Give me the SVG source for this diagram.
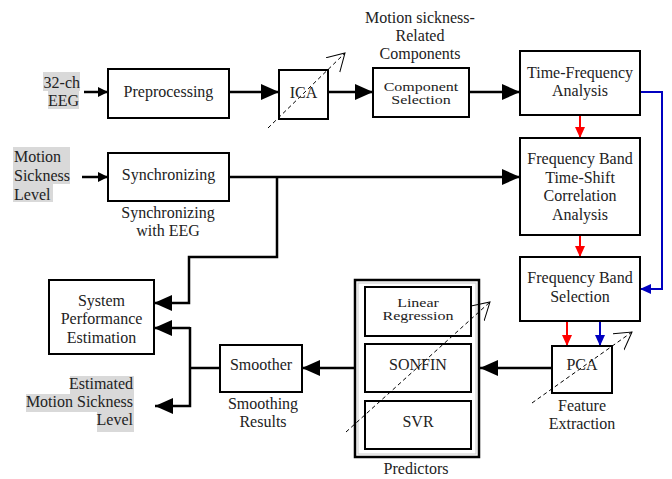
<svg xmlns="http://www.w3.org/2000/svg" width="672" height="479" viewBox="0 0 672 479">
<defs>
<marker id="big" markerUnits="userSpaceOnUse" markerWidth="18" markerHeight="16" refX="18" refY="8" orient="auto"><path d="M0,0 L18,8 L0,16 Z" fill="#000"/></marker>
<marker id="small" markerUnits="userSpaceOnUse" markerWidth="10" markerHeight="10" refX="10" refY="5" orient="auto"><path d="M0,0 L10,5 L0,10 Z" fill="#000"/></marker>
<marker id="red" markerUnits="userSpaceOnUse" markerWidth="11" markerHeight="10" refX="11" refY="5" orient="auto"><path d="M0,0 L11,5 L0,10 Z" fill="#f00"/></marker>
<marker id="blue" markerUnits="userSpaceOnUse" markerWidth="11" markerHeight="10" refX="11" refY="5" orient="auto"><path d="M0,0 L11,5 L0,10 Z" fill="#0000c0"/></marker>
<marker id="open" markerUnits="userSpaceOnUse" markerWidth="20" markerHeight="22" refX="17" refY="10" orient="auto"><path d="M0,0 L17,10 L0,20" fill="none" stroke="#000" stroke-width="1"/></marker>
</defs>
<style>
text{font-family:"Liberation Serif","Times New Roman",serif;font-size:16px;fill:#222;text-anchor:middle}
.box{fill:#fff;stroke:#000;stroke-width:2}
.c{fill:none;stroke:#000;stroke-width:2.5}
.r{fill:none;stroke:#f00;stroke-width:2}
.b{fill:none;stroke:#0000c0;stroke-width:2}
.d{fill:none;stroke:#000;stroke-width:1;stroke-dasharray:4,3}
.hl{fill:#d9d9d9}
.end{text-anchor:end}
.start{text-anchor:start}
</style>

<g id="labels">
<rect class="hl" x="43" y="72" width="37" height="19"/>
<rect class="hl" x="48" y="91" width="31" height="18"/>
<text class="end" x="80" y="88">32-ch</text>
<text class="end" x="79" y="106">EEG</text>
<rect class="hl" x="13" y="147" width="57" height="37"/>
<rect class="hl" x="13" y="184" width="40" height="18"/>
<text class="start" x="14" y="162">Motion</text>
<text class="start" x="14" y="181">Sickness</text>
<text class="start" x="14" y="200">Level</text>
<rect class="hl" x="70" y="376" width="64" height="18"/>
<rect class="hl" x="26" y="394" width="108" height="18"/>
<rect class="hl" x="97" y="412" width="37" height="20"/>
<text class="end" x="133" y="389">Estimated</text>
<text class="end" x="133" y="407">Motion Sickness</text>
<text class="end" x="133" y="425">Level</text>
<text x="420" y="23">Motion sickness-</text>
<text x="420" y="41">Related</text>
<text x="420" y="59">Components</text>
<text x="168" y="218">Synchronizing</text>
<text x="168" y="236">with EEG</text>
<text x="263" y="409">Smoothing</text>
<text x="263" y="427">Results</text>
<text x="582" y="411">Feature</text>
<text x="582" y="429">Extraction</text>
<text x="416" y="474">Predictors</text>
</g>

<g id="connectors">
<line class="c" x1="84" y1="92" x2="108" y2="92" stroke-width="2" marker-end="url(#small)"/>
<line class="c" x1="229" y1="92" x2="279" y2="92" marker-end="url(#big)"/>
<line class="c" x1="328" y1="92" x2="373" y2="92" marker-end="url(#big)"/>
<line class="c" x1="469" y1="92" x2="520" y2="92" marker-end="url(#big)"/>
<line class="c" x1="82" y1="177" x2="108" y2="177" stroke-width="2" marker-end="url(#small)"/>
<line class="c" x1="229" y1="177" x2="520" y2="177" marker-end="url(#big)"/>
<polyline class="c" points="277,177 277,257 189,257 189,303 154,303" marker-end="url(#big)"/>
<line class="r" x1="580" y1="115" x2="580" y2="138" marker-end="url(#red)"/>
<line class="r" x1="580" y1="235" x2="580" y2="257" marker-end="url(#red)"/>
<polyline class="b" points="640,92 662,92 662,289 640,289" marker-end="url(#blue)"/>
<line class="r" x1="567" y1="321" x2="567" y2="346" marker-end="url(#red)"/>
<line class="b" x1="600" y1="321" x2="600" y2="346" marker-end="url(#blue)"/>
<line class="c" x1="552" y1="368" x2="480" y2="368" marker-end="url(#big)"/>
<line class="c" x1="355" y1="368" x2="302" y2="368" marker-end="url(#big)"/>
<line class="c" x1="220" y1="368" x2="190" y2="368"/>
<polyline class="c" points="190,327 190,406 155,406" marker-end="url(#big)"/>
<line class="c" x1="190" y1="328" x2="154" y2="328" marker-end="url(#big)"/>
</g>

<g id="preprocessing"><rect class="box" x="108" y="69" width="121" height="49"/><text x="168.5" y="97">Preprocessing</text></g>
<g id="ica"><rect class="box" x="279" y="70" width="49" height="49"/><text x="303.5" y="98">ICA</text></g>
<g id="component-selection"><rect class="box" x="373" y="68" width="96" height="49"/><text transform="translate(421,90.5) scale(1,0.8)">Component</text><text transform="translate(421,103.5) scale(1,0.8)">Selection</text></g>
<g id="time-frequency"><rect class="box" x="520" y="51" width="120" height="64"/><text x="580" y="78">Time-Frequency</text><text x="580" y="96">Analysis</text></g>
<g id="synchronizing"><rect class="box" x="108" y="153" width="121" height="48"/><text x="168.5" y="180">Synchronizing</text></g>
<g id="time-shift"><rect class="box" x="520" y="138" width="120" height="97"/><text x="580" y="164">Frequency Band</text><text x="580" y="183">Time-Shift</text><text x="580" y="201">Correlation</text><text x="580" y="220">Analysis</text></g>
<g id="band-selection"><rect class="box" x="520" y="257" width="120" height="64"/><text x="580" y="283">Frequency Band</text><text x="580" y="302">Selection</text></g>
<g id="pca"><rect class="box" x="552" y="346" width="60" height="47"/><text x="582" y="370">PCA</text></g>
<g id="predictors">
<rect x="355" y="280" width="124" height="177" fill="#fff" stroke="#000" stroke-width="2.5"/>
<rect x="358" y="283" width="118" height="171" fill="none" stroke="#ccc" stroke-width="1"/>
<rect class="box" x="365" y="287" width="106" height="49"/><text transform="translate(418,307) scale(1,0.8)">Linear</text><text transform="translate(418,320) scale(1,0.8)">Regression</text>
<rect class="box" x="365" y="344" width="106" height="48"/><text x="418" y="370">SONFIN</text>
<rect class="box" x="365" y="401" width="106" height="48"/><text x="418" y="427">SVR</text>
</g>
<g id="smoother"><rect class="box" x="220" y="345" width="82" height="47"/><text x="261" y="370">Smoother</text></g>
<g id="system-performance"><rect class="box" x="49" y="280" width="105" height="74"/><text x="101.5" y="306">System</text><text x="101.5" y="324">Performance</text><text x="101.5" y="343">Estimation</text></g>

<g id="dashed">
<line class="d" x1="268" y1="128" x2="345" y2="53" marker-end="url(#open)"/>
<line class="d" x1="346" y1="432" x2="490" y2="302" marker-end="url(#open)"/>
<line class="d" x1="532" y1="403" x2="632" y2="332" marker-end="url(#open)"/>
</g>
</svg>
